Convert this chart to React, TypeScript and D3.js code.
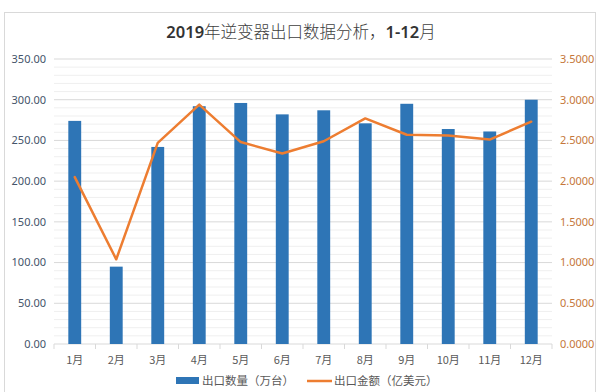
import React from "react";
import * as d3 from "d3";

const months = ["1月", "2月", "3月", "4月", "5月", "6月", "7月", "8月", "9月", "10月", "11月", "12月"];
const quantity = [274, 95, 242, 292, 296, 282, 287, 271, 295, 264, 261, 300];
const amount = [2.05, 1.04, 2.47, 2.94, 2.48, 2.34, 2.49, 2.77, 2.57, 2.56, 2.51, 2.73];
const leftTicks = [0, 50, 100, 150, 200, 250, 300, 350];
const rightTicks = [0, 0.5, 1, 1.5, 2, 2.5, 3, 3.5];
const titleNum = "2019";
const titleMid = "年逆变器出口数据分析，";
const titleEnd = "1-12";
const titleLast = "月";
const seriesNames = ["出口数量（万台）", "出口金额（亿美元）"];

const W = 600;
const H = 392;
const M = { left: 54, right: 552, top: 59, bottom: 344 };
const BLUE = "#2E75B6";
const ORANGE = "#ED7D31";
const FONT = "'Noto Sans', 'Noto Sans CJK SC', sans-serif";
const CJK = "'Noto Sans CJK SC', sans-serif";

export default function App() {
  const x = d3.scaleBand<string>().domain(months).range([M.left, M.right]).paddingInner(0.69).paddingOuter(0.345);
  const xc = (m: string) => (x(m) as number) + x.bandwidth() / 2;
  const step = (M.right - M.left) / months.length;
  const yL = d3.scaleLinear().domain([0, 350]).range([M.bottom, M.top]);
  const yR = d3.scaleLinear().domain([0, 3.5]).range([M.bottom, M.top]);
  const minor = d3.range(0, 351, 10).filter((v) => v % 50 !== 0);
  const line = d3
    .line<number>()
    .x((_, i) => xc(months[i]))
    .y((d) => yR(d));

  return (
    <svg
      width={W}
      height={H}
      style={{ position: "absolute", left: 0, top: 0, background: "#fff" }}
    >
      <rect x={4.5} y={12.5} width={591} height={390} fill="#fff" stroke="#d9d9d9" />
      <text x={301} y={38} textAnchor="middle" fontFamily={CJK} fontSize={16.5} fill="#333" fontWeight={400}>
        <tspan fontWeight={600} fontFamily={FONT}>{titleNum}</tspan>
        <tspan fontWeight={300} fill="#404040">{titleMid}</tspan>
        <tspan fontWeight={600} fontFamily={FONT}>{titleEnd}</tspan>
        <tspan fontWeight={300} fill="#404040">{titleLast}</tspan>
      </text>
      {minor.map((v) => (
        <line key={"m" + v} x1={M.left} x2={M.right} y1={yL(v)} y2={yL(v)} stroke="#efefef" strokeWidth={1} />
      ))}
      {leftTicks.map((v) => (
        <line key={"g" + v} x1={M.left} x2={M.right} y1={yL(v)} y2={yL(v)} stroke="#d9d9d9" strokeWidth={1} />
      ))}
      {leftTicks.map((v) => (
        <text key={"l" + v} x={46} y={yL(v)} dy="0.35em" textAnchor="end" fontFamily={FONT} fontSize={11} fill="#44546A">
          {d3.format(".2f")(v)}
        </text>
      ))}
      {rightTicks.map((v) => (
        <text key={"r" + v} x={560} y={yR(v)} dy="0.35em" textAnchor="start" fontFamily={FONT} fontSize={11} fill="#C5773A">
          {d3.format(".4f")(v)}
        </text>
      ))}
      {d3.range(months.length + 1).map((i) => (
        <line
          key={"t" + i}
          x1={M.left + i * step}
          x2={M.left + i * step}
          y1={M.bottom}
          y2={M.bottom + 5}
          stroke="#d9d9d9"
        />
      ))}
      {quantity.map((v, i) => (
        <rect key={"b" + i} x={x(months[i])} y={yL(v)} width={x.bandwidth()} height={M.bottom - yL(v)} fill={BLUE} />
      ))}
      <path d={line(amount) || ""} fill="none" stroke={ORANGE} strokeWidth={2.5} strokeLinejoin="round" strokeLinecap="round" />
      {months.map((m) => (
        <text key={m} x={xc(m)} y={360} dy="0.35em" textAnchor="middle" fontFamily={CJK} fontSize={11} fill="#595959">
          {m}
        </text>
      ))}
      <rect x={176} y={377} width={23} height={7} fill={BLUE} />
      <text x={202} y={381} dy="0.35em" fontFamily={CJK} fontSize={11.5} fill="#595959">
        {seriesNames[0]}
      </text>
      <line x1={307} x2={332} y1={381} y2={381} stroke={ORANGE} strokeWidth={2.5} />
      <text x={334} y={381} dy="0.35em" fontFamily={CJK} fontSize={11.5} fill="#595959">
        {seriesNames[1]}
      </text>
    </svg>
  );
}
